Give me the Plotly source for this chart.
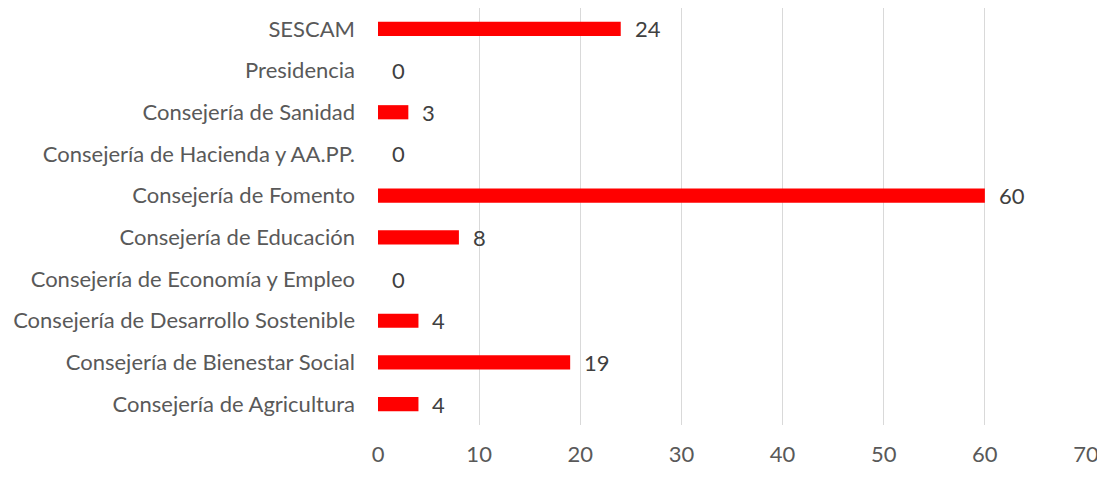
import plotly.graph_objects as go

categories = [
    "Consejería de Agricultura",
    "Consejería de Bienestar Social",
    "Consejería de Desarrollo Sostenible",
    "Consejería de Economía y Empleo",
    "Consejería de Educación",
    "Consejería de Fomento",
    "Consejería de Hacienda y AA.PP.",
    "Consejería de Sanidad",
    "Presidencia",
    "SESCAM",
]
values = [4, 19, 4, 0, 8, 60, 0, 3, 0, 24]
x_ticks = [0, 10, 20, 30, 40, 50, 60, 70]

FONT = "Lato"
FS = 22

fig = go.Figure(
    go.Bar(
        y=categories,
        x=values,
        orientation="h",
        marker=dict(color="#ff0000", line=dict(width=0)),
        width=0.34,
    )
)

for c, v in zip(categories, values):
    fig.add_annotation(
        x=v, y=c, text=str(v), showarrow=False, xanchor="left", xshift=12,
        font=dict(family=FONT, size=FS, color="#404040"),
    )

# page body has an 8px default margin, so the figure is sized to fit inside it
fig.update_layout(
    width=1097,
    height=475,
    margin=dict(l=370, r=19, t=0, b=58),
    paper_bgcolor="white",
    plot_bgcolor="white",
    showlegend=False,
    font=dict(family=FONT, size=FS, color="#595959"),
    xaxis=dict(
        range=[0, 70],
        tickvals=x_ticks,
        showgrid=True,
        gridcolor="#d9d9d9",
        gridwidth=1,
        zeroline=False,
        showline=False,
        ticks="",
        ticklabelstandoff=14,
        tickfont=dict(family=FONT, size=FS, color="#595959"),
    ),
    yaxis=dict(
        categoryorder="array",
        categoryarray=categories,
        range=[-0.5, 9.5],
        showgrid=False,
        zeroline=False,
        showline=False,
        ticks="",
        ticklabelstandoff=22,
        tickfont=dict(family=FONT, size=FS, color="#595959"),
    ),
)

fig.write_html("out.html")
